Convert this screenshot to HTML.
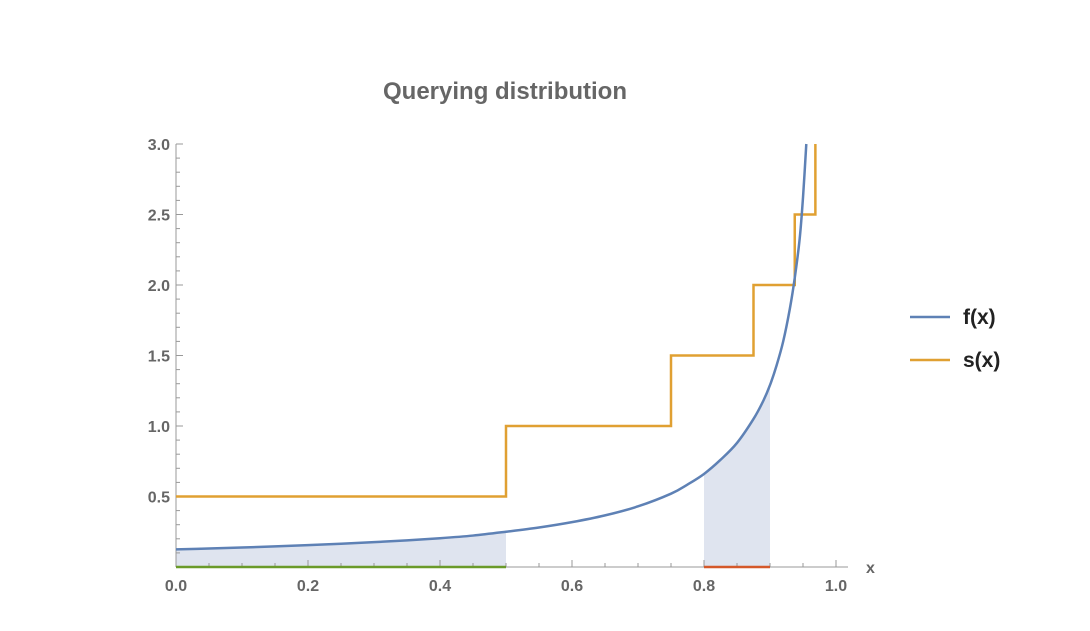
<!DOCTYPE html>
<html><head><meta charset="utf-8"><style>
body{margin:0;background:#fff;}
text{font-family:"Liberation Sans",sans-serif;font-weight:bold;fill:#666;}
</style></head><body>
<svg id="c" width="1090" height="626"></svg>
<script>
const xTicks=[0.0,0.2,0.4,0.6,0.8,1.0];
const yTicks=[0.5,1.0,1.5,2.0,2.5,3.0];
const fX=[0,0.05,0.1,0.15,0.2,0.25,0.3,0.35,0.4,0.45,0.5,0.55,0.6,0.65,0.7,0.75,0.775,0.8,0.825,0.85,0.875,0.89,0.9,0.91,0.92,0.93,0.9375,0.945,0.95,0.955];
const fY=[0.125,0.131,0.138,0.146,0.155,0.165,0.176,0.189,0.204,0.223,0.25,0.28,0.318,0.366,0.43,0.52,0.585,0.66,0.76,0.88,1.05,1.18,1.29,1.43,1.6,1.83,2.05,2.33,2.62,3.0];
const sX=[0,0.5,0.75,0.875,0.9375,0.96875];
const sY=[0.5,1.0,1.5,2.0,2.5,3.0];
const shadeRanges=[[0,0.5],[0.8,0.9]];
const X=v=>176+v*660, Y=v=>567-v*141;
const svg=document.getElementById('c');const NS='http://www.w3.org/2000/svg';
function mk(t,a,p){const e=document.createElementNS(NS,t);for(const k in a)e.setAttribute(k,a[k]);(p||svg).appendChild(e);return e;}
function fAt(x){for(let i=1;i<fX.length;i++)if(x<=fX[i]){const t=(x-fX[i-1])/(fX[i]-fX[i-1]);return fY[i-1]+t*(fY[i]-fY[i-1]);}return fY[fY.length-1];}
function smooth(pts){let d='M'+pts[0][0]+','+pts[0][1];for(let i=0;i<pts.length-1;i++){const p0=pts[i-1]||pts[i],p1=pts[i],p2=pts[i+1],p3=pts[i+2]||p2;
d+='C'+(p1[0]+(p2[0]-p0[0])/6)+','+(p1[1]+(p2[1]-p0[1])/6)+' '+(p2[0]-(p3[0]-p1[0])/6)+','+(p2[1]-(p3[1]-p1[1])/6)+' '+p2[0]+','+p2[1];}return d;}
shadeRanges.forEach((r,i)=>{let pts=[[r[0],0]];const xs=[r[0],...fX.filter(v=>v>r[0]&&v<r[1]),r[1]];xs.forEach(x=>pts.push([x,fAt(x)]));pts.push([r[1],0]);
const p=mk('polygon',{points:pts.map(q=>X(q[0])+','+Y(q[1])).join(' '),fill:'#dfe4ef'});

});
let ax=mk('line',{x1:176,y1:144,x2:176,y2:567,stroke:'#999','stroke-width':1});

ax=mk('line',{x1:176,y1:567,x2:848,y2:567,stroke:'#999','stroke-width':1});

for(let i=0;i<=20;i++){const x=X(i*0.05);mk('line',{x1:x,y1:567,x2:x,y2:567-(i%4==0?7:4),stroke:'#999'});}
for(let i=1;i<=30;i++){const y=Y(i*0.1);mk('line',{x1:176,y1:y,x2:176+(i%5==0?7:4),y2:y,stroke:'#999'});}
xTicks.forEach(v=>{const t=mk('text',{x:X(v),y:591,'text-anchor':'middle','font-size':16});t.textContent=v.toFixed(1);
});
yTicks.forEach(v=>{const t=mk('text',{x:170,y:Y(v)+6,'text-anchor':'end','font-size':16});t.textContent=v.toFixed(1);
});
let t=mk('text',{x:866,y:573,'font-size':16});t.textContent='x';

t=mk('text',{x:505,y:99,'text-anchor':'middle','font-size':24});t.textContent='Querying distribution';

let l=mk('line',{x1:X(shadeRanges[0][0]),y1:567,x2:X(shadeRanges[0][1]),y2:567,stroke:'#6a9a2a','stroke-width':2.5});

l=mk('line',{x1:X(shadeRanges[1][0]),y1:567,x2:X(shadeRanges[1][1]),y2:567,stroke:'#d4582a','stroke-width':2.5});

let d='';sX.forEach((x,i)=>{const xe=i<sX.length-1?sX[i+1]:x;d+=(i?'L':'M')+X(x)+','+Y(sY[i])+'L'+X(xe)+','+Y(sY[i]);});
d+='L'+X(sX[sX.length-1])+','+Y(3.0);
const sp=mk('path',{d:d,fill:'none',stroke:'#e0a032','stroke-width':2.5});

const fp=mk('path',{d:smooth(fX.map((x,i)=>[X(x),Y(fY[i])])),fill:'none',stroke:'#5e81b5','stroke-width':2.5});

[['f(x)','#5e81b5',317],['s(x)','#e0a032',360]].forEach((e,i)=>{const g=mk('g',{});

mk('line',{x1:910,y1:e[2],x2:950,y2:e[2],stroke:e[1],'stroke-width':2.5},g);
const tt=mk('text',{x:963,y:e[2]+7,'font-size':21,style:'fill:#222'},g);tt.textContent=e[0];});
</script>
</body></html>
